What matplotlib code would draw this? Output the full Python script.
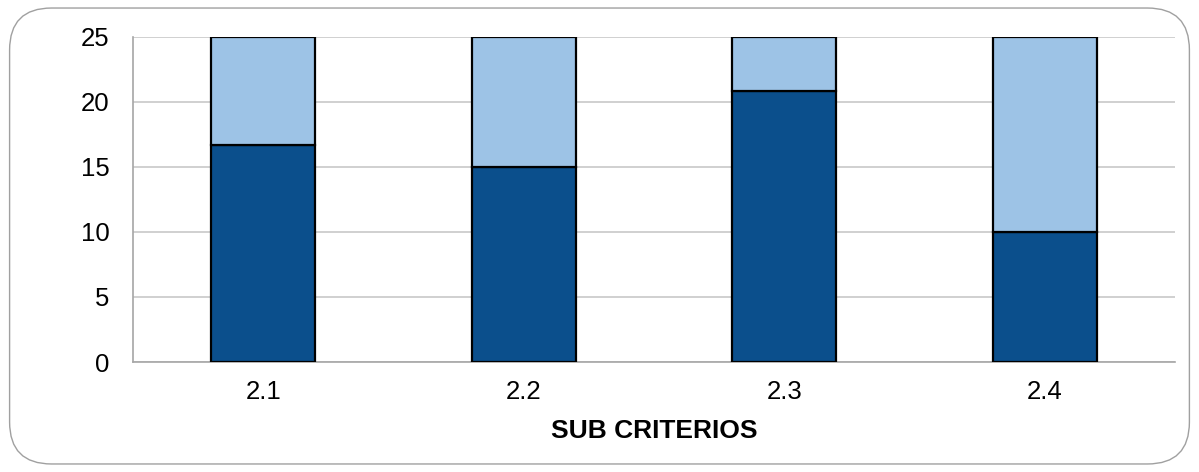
import matplotlib.pyplot as plt
from matplotlib.patches import FancyBboxPatch

plt.rcParams['font.family'] = ['Liberation Sans', 'DejaVu Sans']

# Puntajes por sub criterio
categorias = ['2.1', '2.2', '2.3', '2.4']
obtenido = [16.67, 15.0, 20.83, 10.0]
faltante = [8.33, 10.0, 4.17, 15.0]

fig = plt.figure(figsize=(11.99, 4.72), dpi=100)
ax = fig.add_axes([0.111, 0.233, 0.869, 0.689])

x = range(len(categorias))
ax.bar(x, obtenido, width=0.4, color='#0B4F8C', edgecolor='black', linewidth=1.6, zorder=3)
ax.bar(x, faltante, width=0.4, bottom=obtenido, color='#9DC3E6', edgecolor='black',
       linewidth=1.6, zorder=3)

ax.set_xlim(-0.5, 3.5)
ax.set_ylim(0, 25)
ax.set_yticks([0, 5, 10, 15, 20, 25])
ax.set_xticks(list(x))
ax.set_xticklabels(categorias)
ax.tick_params(axis='both', length=0, labelsize=18.5)
ax.tick_params(axis='y', pad=17)
ax.tick_params(axis='x', pad=13)
ax.grid(axis='y', color='#c8c8c8', linewidth=1.2, zorder=0)

for side in ['top', 'right']:
    ax.spines[side].set_visible(False)
for side in ['left', 'bottom']:
    ax.spines[side].set_color('#a6a6a6')
    ax.spines[side].set_linewidth(1.2)

ax.set_xlabel('SUB CRITERIOS', fontsize=19, fontweight='bold', labelpad=11)

# Marco redondeado del grafico
marco = FancyBboxPatch((0.008, 0.017), 0.984, 0.966, boxstyle='round,pad=0,rounding_size=0.035',
                       transform=fig.transFigure, facecolor='none', edgecolor='#a0a0a0',
                       linewidth=1.0, mutation_aspect=1199 / 472)
fig.patches.append(marco)

fig.savefig('out.png', dpi=100)
